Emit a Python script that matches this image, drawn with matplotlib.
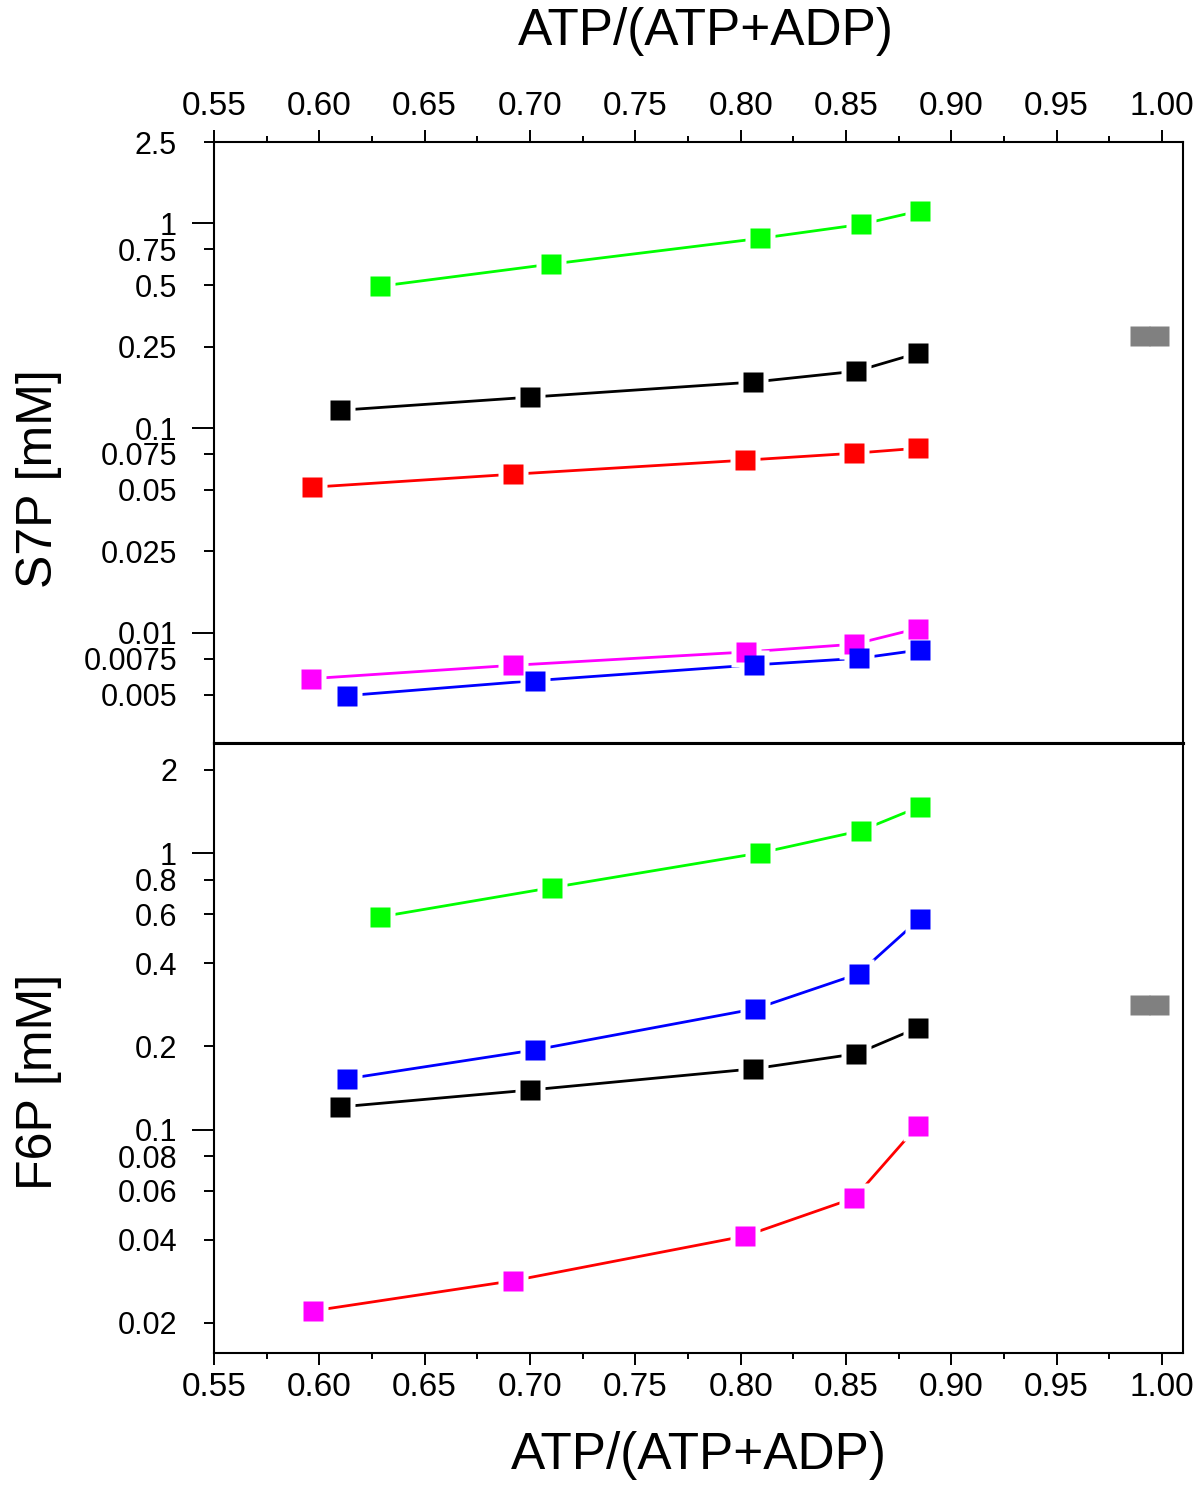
import numpy as np
import matplotlib
matplotlib.use("Agg")
from matplotlib import pyplot as plt

plt.rcParams['font.family'] = ['Liberation Sans', 'DejaVu Sans']

# S7P panel (top)
s7p_green_x = [0.629, 0.710, 0.809, 0.857, 0.885]
s7p_green_y = [0.494, 0.633, 0.845, 0.989, 1.152]
s7p_black_x = [0.610, 0.700, 0.806, 0.855, 0.884]
s7p_black_y = [0.1224, 0.1418, 0.168, 0.190, 0.2325]
s7p_red_x = [0.5965, 0.692, 0.802, 0.854, 0.884]
s7p_red_y = [0.0515, 0.0596, 0.0698, 0.0755, 0.0798]
s7p_magenta_x = [0.596, 0.692, 0.8025, 0.854, 0.884]
s7p_magenta_y = [0.00598, 0.00695, 0.00807, 0.00881, 0.01051]
s7p_blue_x = [0.613, 0.7024, 0.8065, 0.8564, 0.8852]
s7p_blue_y = [0.00494, 0.00585, 0.00698, 0.00752, 0.00826]
s7p_gray_x = [0.9897, 0.9987]
s7p_gray_y = [0.2815, 0.2815]

# F6P panel (bottom)
f6p_green_x = [0.629, 0.7105, 0.809, 0.857, 0.885]
f6p_green_y = [0.588, 0.750, 1.0, 1.204, 1.471]
f6p_black_x = [0.610, 0.700, 0.806, 0.855, 0.884]
f6p_black_y = [0.1208, 0.139, 0.1658, 0.188, 0.2333]
f6p_blue_x = [0.613, 0.7024, 0.807, 0.856, 0.885]
f6p_blue_y = [0.1526, 0.1942, 0.2734, 0.3659, 0.5784]
f6p_magenta_x = [0.597, 0.692, 0.802, 0.854, 0.884]
f6p_magenta_y = [0.0221, 0.0284, 0.0412, 0.0566, 0.1031]
f6p_gray_x = [0.9897, 0.9987]
f6p_gray_y = [0.2826, 0.2826]

xticks = [0.55, 0.60, 0.65, 0.70, 0.75, 0.80, 0.85, 0.90, 0.95, 1.00]
xlabels = ["0.55", "0.60", "0.65", "0.70", "0.75", "0.80", "0.85", "0.90", "0.95", "1.00"]
xminor = [0.575, 0.625, 0.675, 0.725, 0.775, 0.825, 0.875, 0.925, 0.975]

s7p_major = [1, 0.1, 0.01]
s7p_major_lab = ["1", "0.1", "0.01"]
s7p_minor = [2.5, 0.75, 0.5, 0.25, 0.075, 0.05, 0.025, 0.0075, 0.005]
s7p_minor_lab = ["2.5", "0.75", "0.5", "0.25", "0.075", "0.05", "0.025", "0.0075", "0.005"]

f6p_major = [1, 0.1]
f6p_major_lab = ["1", "0.1"]
f6p_minor = [2, 0.8, 0.6, 0.4, 0.2, 0.08, 0.06, 0.04, 0.02]
f6p_minor_lab = ["2", "0.8", "0.6", "0.4", "0.2", "0.08", "0.06", "0.04", "0.02"]

GREEN = "#00ff00"
RED = "#ff0000"
MAGENTA = "#ff00ff"
BLUE = "#0000ff"
GRAY = "#808080"


def dibujar(ax, series):
    # line, white gap square, then the coloured square on top
    for xs, ys, mc, lc in series:
        ax.plot(xs, ys, color=lc, lw=2.0, zorder=2, solid_capstyle='butt')
        ax.plot(xs, ys, ls='none', marker='s', ms=22, mfc='white', mec='none', zorder=3)
    for xs, ys, mc, lc in series:
        ax.plot(xs, ys, ls='none', marker='s', ms=14.4, mfc=mc, mec='none', zorder=4)


def estilo(ax, major, major_lab, minor, minor_lab, ylim):
    ax.set_yscale('log')
    ax.set_xlim(0.55, 1.01)
    ax.set_ylim(*ylim)
    ax.set_yticks(major, major_lab)
    ax.set_yticks(minor, minor_lab, minor=True)
    ax.set_xticks(xticks, xlabels)
    ax.set_xticks(xminor, minor=True)
    ax.tick_params(axis='y', which='major', direction='out', length=15.8, width=1.4,
                   pad=10.8, labelsize=22, left=True, right=False)
    ax.tick_params(axis='y', which='minor', direction='out', length=7.2, width=1.4,
                   pad=19.4, labelsize=22, left=True, right=False)
    ax.tick_params(axis='x', which='major', direction='out', length=8.6, width=1.4, labelsize=24)
    ax.tick_params(axis='x', which='minor', direction='out', length=4.3, width=1.4)
    for s in ax.spines.values():
        s.set_linewidth(1.5)


fig = plt.figure(figsize=(12, 14.91), dpi=100)
W, H = 1200, 1491
ax1 = fig.add_axes([214 / W, 1 - 743 / H, 969 / W, 601 / H])
ax2 = fig.add_axes([214 / W, 1 - 1352.7 / H, 969 / W, 609.7 / H])

dibujar(ax1, [(s7p_green_x, s7p_green_y, GREEN, GREEN),
              (s7p_black_x, s7p_black_y, "black", "black"),
              (s7p_red_x, s7p_red_y, RED, RED),
              (s7p_magenta_x, s7p_magenta_y, MAGENTA, MAGENTA),
              (s7p_blue_x, s7p_blue_y, BLUE, BLUE)])
ax1.plot(s7p_gray_x, s7p_gray_y, ls='none', marker='s', ms=14.4, mfc=GRAY, mec='none', zorder=4)

dibujar(ax2, [(f6p_green_x, f6p_green_y, GREEN, GREEN),
              (f6p_black_x, f6p_black_y, "black", "black"),
              (f6p_blue_x, f6p_blue_y, BLUE, BLUE),
              (f6p_magenta_x, f6p_magenta_y, MAGENTA, RED)])
ax2.plot(f6p_gray_x, f6p_gray_y, ls='none', marker='s', ms=14.4, mfc=GRAY, mec='none', zorder=4)

estilo(ax1, s7p_major, s7p_major_lab, s7p_minor, s7p_minor_lab, (0.0029, 2.5))
estilo(ax2, f6p_major, f6p_major_lab, f6p_minor, f6p_minor_lab, (0.0156, 2.5))

ax1.xaxis.tick_top()
ax1.tick_params(axis='x', which='both', top=True, bottom=False, labeltop=True, labelbottom=False)
ax1.tick_params(axis='x', which='major', pad=6)
ax2.tick_params(axis='x', which='both', top=False, bottom=True)
ax2.tick_params(axis='x', which='major', pad=5)
# the shared border between the two panels is drawn thicker
ax1.spines['bottom'].set_linewidth(2.2)
ax2.spines['top'].set_linewidth(2.2)

ax1.set_ylabel("S7P [mM]", fontsize=36)
ax1.yaxis.set_label_coords(-0.157, 0.44)
ax2.set_ylabel("F6P [mM]", fontsize=36)
ax2.yaxis.set_label_coords(-0.157, 0.444)

fig.text(706 / W, 1 - 32 / H, "ATP/(ATP+ADP)", fontsize=37, ha='center', va='center')
fig.text(699 / W, 1 - 1455 / H, "ATP/(ATP+ADP)", fontsize=37, ha='center', va='center')

plt.savefig("out.png", dpi=100)
plt.close()
